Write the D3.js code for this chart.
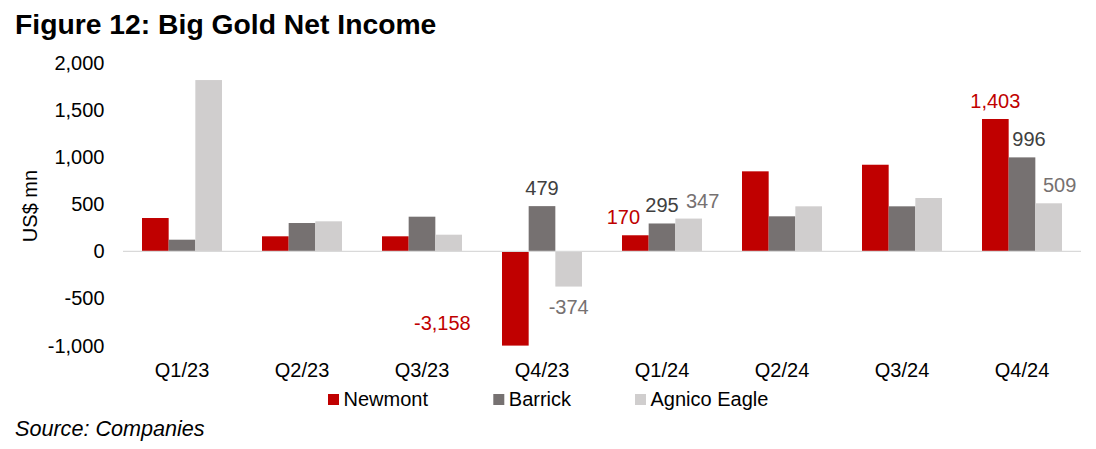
<!DOCTYPE html>
<html>
<head>
<meta charset="utf-8">
<script src="https://cdn.jsdelivr.net/npm/d3@7"></script>
<style>
  html, body { margin: 0; padding: 0; background: #fff; }
  svg { display: block; font-family: "Liberation Sans", Arial, sans-serif; }
</style>
</head>
<body>
<svg id="chart" width="1096" height="449"></svg>
<script>
// ---- Data ----
const categories = ["Q1/23", "Q2/23", "Q3/23", "Q4/23", "Q1/24", "Q2/24", "Q3/24", "Q4/24"];
const seriesNames = ["Newmont", "Barrick", "Agnico Eagle"];
const newmont = [353, 159, 159, -3158, 170, 848, 918, 1403];
const barrick = [123, 300, 367, 479, 295, 371, 477, 996];
const agnico  = [1816, 318, 176, -374, 347, 477, 565, 509];
const yTicks = [-1000, -500, 0, 500, 1000, 1500, 2000];
// labelled points: [series index, category index]
const labelled = [[0, 3], [1, 3], [2, 3], [0, 4], [1, 4], [2, 4], [0, 7], [1, 7], [2, 7]];

// ---- Style / layout ----
const colors = ["#C00000", "#767171", "#D0CECE"];
const labelColors = ["#C00000", "#404040", "#767171"];
const labelNudge = { "0-3": [-73, 0], "0-4": [-12, 0], "2-4": [14, 0], "1-7": [7, 0], "2-7": [11, 0] };

const locale = d3.formatLocale({ decimal: ".", thousands: ",", grouping: [3], currency: ["$", ""], minus: "-" });
const fmt = locale.format(",");

const svg = d3.select("#chart");
const values = [newmont, barrick, agnico];

const x = d3.scaleBand().domain(categories).range([122, 1082]).paddingInner(1 / 3).paddingOuter(1 / 6);
const xs = d3.scaleBand().domain(d3.range(seriesNames.length)).range([0, x.bandwidth()]);
const y = d3.scaleLinear().domain([-1000, 2000]).range([345.6, 62.7]);

// Title
svg.append("text").attr("x", 15).attr("y", 33.5)
  .attr("font-size", 28.3).attr("font-weight", "bold").attr("fill", "#000")
  .text("Figure 12: Big Gold Net Income");

// Y axis (labels only)
const yAxis = d3.axisLeft(y).tickValues(yTicks).tickFormat(fmt).tickSize(0).tickPadding(0);
const yg = svg.append("g").attr("transform", "translate(104.5,0)").call(yAxis);
yg.select(".domain").remove();
yg.selectAll("text").attr("font-size", 20).attr("fill", "#000").attr("font-family", "Liberation Sans, Arial, sans-serif");

// Y title
svg.append("text").attr("transform", "translate(37,206) rotate(-90)")
  .attr("text-anchor", "middle").attr("font-size", 20).attr("fill", "#000").text("US$ mn");

// Bars
const dmin = y.domain()[0];
seriesNames.forEach((s, si) => {
  svg.append("g").selectAll("rect").data(categories).join("rect")
    .attr("x", c => x(c) + xs(si))
    .attr("width", xs.bandwidth())
    .attr("y", (c, i) => y(Math.max(values[si][i], 0)))
    .attr("height", (c, i) => Math.abs(y(Math.max(values[si][i], dmin)) - y(0)))
    .attr("fill", colors[si]);
});

// Zero line
svg.append("line").attr("x1", 123).attr("x2", 1081).attr("y1", y(0)).attr("y2", y(0))
  .attr("stroke", "#D9D9D9").attr("stroke-width", 1.3);

// X axis (labels only)
const xAxis = d3.axisBottom(x).tickSize(0).tickPadding(0);
const xg = svg.append("g").attr("transform", "translate(0,363)").call(xAxis);
xg.select(".domain").remove();
xg.selectAll("text").attr("font-size", 20).attr("fill", "#000").attr("dy", "0.71em").attr("font-family", "Liberation Sans, Arial, sans-serif");

// Data labels
labelled.forEach(([si, ci]) => {
  const v = values[si][ci];
  const c = categories[ci];
  const nudge = labelNudge[si + "-" + ci] || [0, 0];
  const cx = x(c) + xs(si) + xs.bandwidth() / 2 + nudge[0];
  let by;
  if (si === 0 && v < dmin) by = 330;
  else if (v >= 0) by = y(v) - 11;
  else by = y(v) + 27;
  svg.append("text").attr("x", cx).attr("y", by + nudge[1])
    .attr("text-anchor", "middle").attr("font-size", 20).attr("fill", labelColors[si])
    .text(fmt(v));
});

// Legend
const legendX = [328, 493.3, 635];
seriesNames.forEach((s, si) => {
  svg.append("rect").attr("x", legendX[si]).attr("y", 394).attr("width", 11).attr("height", 11).attr("fill", colors[si]);
  svg.append("text").attr("x", legendX[si] + 15.5).attr("y", 406).attr("font-size", 20).attr("fill", "#000").text(s);
});

// Source
svg.append("text").attr("x", 15).attr("y", 435.5).attr("font-size", 21.6).attr("font-style", "italic").attr("fill", "#000")
  .text("Source: Companies");
</script>
</body>
</html>
